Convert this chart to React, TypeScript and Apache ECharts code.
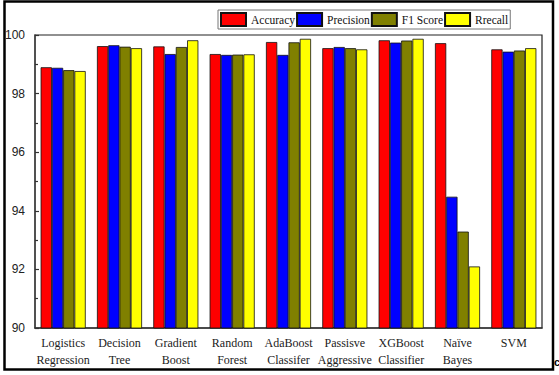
import React, { useEffect, useRef } from "react";
import * as echarts from "echarts";

const categories = [
  "Logistics\nRegression",
  "Decision\nTree",
  "Gradient\nBoost",
  "Random\nForest",
  "AdaBoost\nClassifer",
  "Passisve\nAggressive",
  "XGBoost\nClassifier",
  "Naïve\nBayes",
  "SVM",
];
const seriesNames = ["Accuracy", "Precision", "F1 Score", "Rrecall"];
const accuracy = [98.9, 99.62, 99.61, 99.35, 99.76, 99.55, 99.82, 99.72, 99.51];
const precision = [98.88, 99.65, 99.35, 99.32, 99.32, 99.59, 99.74, 94.48, 99.43];
const f1Score = [98.8, 99.6, 99.59, 99.33, 99.75, 99.55, 99.81, 93.29, 99.47];
const recall = [98.77, 99.55, 99.82, 99.34, 99.87, 99.51, 99.87, 92.1, 99.55];
const colors = ["#ff0000", "#0000ff", "#808000", "#ffff00"];
const yTicks = { min: 90, max: 100, interval: 2 };

export default function App() {
  const ref = useRef<HTMLDivElement>(null);
  useEffect(() => {
    if (!ref.current) return;
    const chart = echarts.init(ref.current, null, { renderer: "svg" });
    const data = [accuracy, precision, f1Score, recall];
    chart.setOption({
      animation: false,
      backgroundColor: "#fff",
      graphic: [
        {
          type: "rect",
          shape: { x: 4.5, y: 1.5, width: 548.5, height: 368 },
          style: { fill: "none", stroke: "#000", lineWidth: 2.5 },
          silent: true,
        },
        {
          type: "text",
          x: 554,
          y: 356,
          style: { text: "c", fill: "#000", font: "bold 11px 'Liberation Sans'" },
        },
      ],
      legend: {
        data: seriesNames,
        left: 218,
        top: 10,
        itemWidth: 25,
        itemHeight: 13,
        itemGap: 1,
        padding: [2, 2],
        borderColor: "#777",
        borderWidth: 1,
        icon: "rect",
        textStyle: { fontFamily: "Liberation Serif", fontSize: 11.5, color: "#111" },
      },
      grid: {
        left: 35,
        right: 17,
        top: 35,
        bottom: 47,
        show: true,
        borderColor: "#222",
        borderWidth: 1.2,
        containLabel: false,
      },
      xAxis: {
        type: "category",
        data: categories,
        axisLine: { lineStyle: { color: "#333", width: 1.5 } },
        axisTick: { inside: true, length: 3, lineStyle: { color: "#333" } },
        axisLabel: {
          interval: 0,
          margin: 6,
          fontFamily: "Liberation Serif",
          fontSize: 12,
          lineHeight: 17,
          color: "#222",
        },
      },
      yAxis: {
        type: "value",
        min: yTicks.min,
        max: yTicks.max,
        interval: yTicks.interval,
        axisLine: { show: true, lineStyle: { color: "#444", width: 1.5 } },
        axisTick: { show: true, inside: true, length: 4, lineStyle: { color: "#333", width: 1.2 } },
        minorTick: { show: true, splitNumber: 2, length: 3, lineStyle: { color: "#333", width: 1.2 } },
        splitLine: { show: false },
        axisLabel: { fontFamily: "Liberation Sans", fontSize: 12, color: "#222", margin: 10 },
      },
      series: seriesNames.map((name, i) => ({
        name,
        type: "bar",
        data: data[i],
        barGap: "0%",
        barCategoryGap: "20%",
        itemStyle: { color: colors[i], borderColor: "#111", borderWidth: 0.8 },
      })),
    });
    return () => chart.dispose();
  }, []);
  return (
    <div
      ref={ref}
      style={{ position: "fixed", left: 0, top: 0, width: 559, height: 375 }}
    />
  );
}
